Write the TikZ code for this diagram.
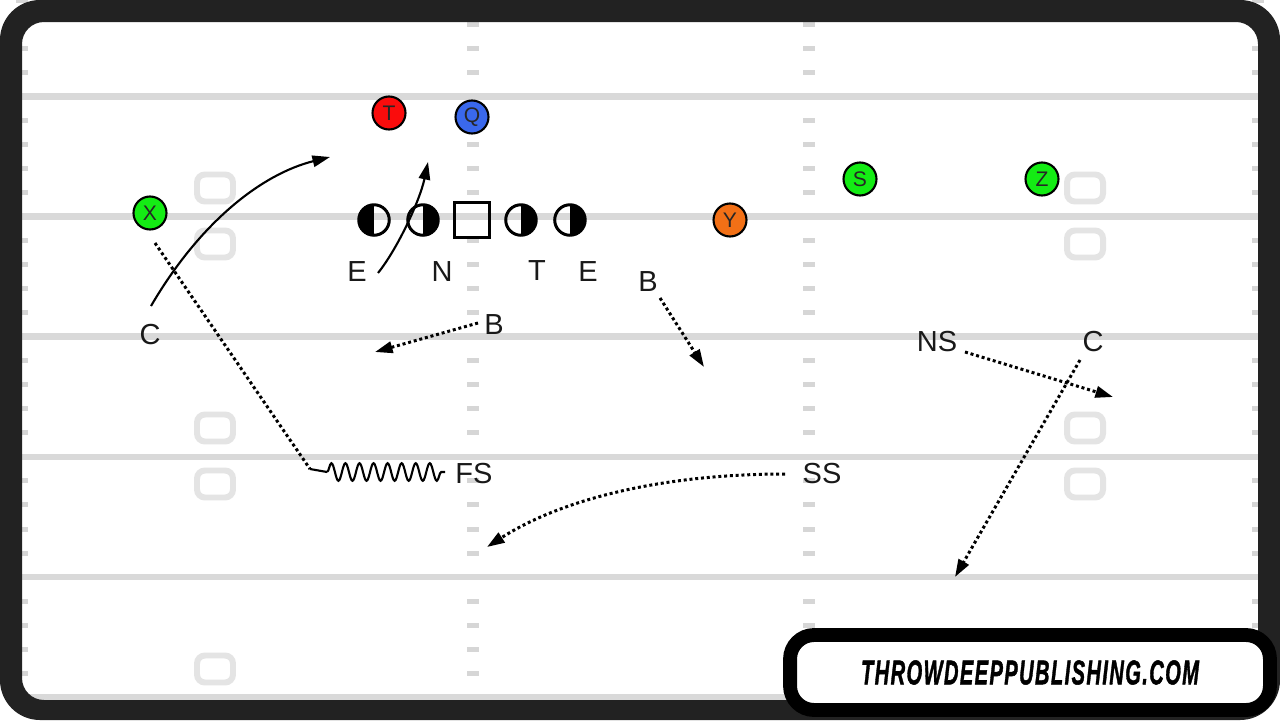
\documentclass[tikz,border=0pt]{standalone}
\usepackage{fontspec}
\setmainfont{Liberation Sans}
\newfontfamily\logofont[BoldItalicFeatures={FakeBold=1.6}]{Liberation Sans}
\usepackage{graphicx}
\usetikzlibrary{arrows.meta,decorations.pathmorphing}
\definecolor{frame}{HTML}{222222}
\definecolor{yard}{HTML}{D9D9D9}
\definecolor{hash}{HTML}{D6D6D6}
\definecolor{marker}{HTML}{E4E4E4}
\definecolor{pgreen}{RGB}{20,236,20}
\definecolor{pred}{RGB}{250,12,12}
\definecolor{pblue}{RGB}{58,104,236}
\definecolor{porange}{RGB}{242,112,22}
\tikzset{
  player/.style={circle,draw=black,line width=1.2pt,minimum size=0.66cm,inner sep=0pt,
    font=\fontsize{12}{12}\selectfont,text=black!85},
  lineman/.style={circle,draw,line width=1.7pt,minimum size=0.61cm,inner sep=0pt},
  leftshade/.style={lineman,path picture={\fill (path picture bounding box.south west) rectangle (path picture bounding box.north);}},
  rightshade/.style={lineman,path picture={\fill (path picture bounding box.south) rectangle (path picture bounding box.north east);}},
  snapbox/.style={draw,line width=1.7pt,minimum size=0.7cm,inner sep=0pt},
  deflabel/.style={font=\fontsize{16.5}{16.5}\selectfont,text=black!90,inner sep=0pt},
  route/.style={line width=1.2pt},
  zone/.style={line width=1.7pt,dash pattern=on 1.7pt off 1.6pt},
  >={Triangle[length=10pt,width=6.5pt]}
}
\newcommand\lk{\kern0.07em}
\begin{document}
\begin{tikzpicture}[x=0.02cm,y=-0.02cm,node distance=0.98cm]
  \useasboundingbox (0,0) rectangle (1280,720);
  \fill[white] (0,0) rectangle (1280,720);
  % field
  \foreach \k in {0,...,5}
    \fill[yard] (22,{96.3+120.2*\k-3.3}) rectangle (1258,{96.3+120.2*\k+3.3});
  \foreach \k in {-1,...,4}
    \foreach \j in {1,...,4}
      \foreach \hx in {22,473,809,1258}
        \fill[hash] ({\hx-6},{96.3+120.2*\k+24.04*\j-2.5}) rectangle ++(12,5);
  \foreach \mx in {215,1085}
    \foreach \my in {188,244,428,484,669}
      \draw[marker,line width=3.4pt,rounded corners=0.16cm] ({\mx-18},{\my-13.5}) rectangle ({\mx+18},{\my+13.5});
  % frame
  \fill[frame,even odd rule] [rounded corners=0.8cm] (0,0) rectangle (1280,720)
    [rounded corners=0.44cm] (22,22) rectangle (1258,700);
  \node (logo) [draw=black,line width=7.9pt,fill=white,rounded corners=0.48cm,
    minimum width=9.6cm,minimum height=1.5cm] at (1030,672.5)
    {\resizebox{6.76cm}{0.48cm}{\logofont\bfseries\itshape T\lk H\lk R\lk O\lk W\lk D\lk E\lk E\lk P\lk P\lk U\lk B\lk L\lk I\lk S\lk H\lk I\lk N\lk G\lk .\lk C\lk O\lk M}};

  % offense
  \node (T) [player,fill=pred] at (389,113) {T};
  \node (Q) [player,fill=pblue] at (472,117) {Q};
  \node (X) [player,fill=pgreen] at (150,213) {X};
  \node (S) [player,fill=pgreen] at (860,179) {S};
  \node (Z) [player,fill=pgreen] at (1042,179) {Z};
  \node (Y) [player,fill=porange] at (730,220) {Y};
  \node (LT) [leftshade] at (374,220) {};
  \node (LG) [rightshade,right of=LT] {};
  \node (OC) [snapbox,right of=LG] {};
  \node (RG) [rightshade,right of=OC] {};
  \node (RT) [rightshade,right of=RG] {};

  % defense
  \node (E1) [deflabel] at (357,272) {E};
  \node (N) [deflabel] at (442,272) {N};
  \node (DT) [deflabel] at (537,271) {T};
  \node (E2) [deflabel] at (588,272) {E};
  \node (B1) [deflabel] at (648,282) {B};
  \node (B2) [deflabel] at (494,325) {B};
  \node (C1) [deflabel] at (150,335) {C};
  \node (NS) [deflabel] at (937,342) {NS};
  \node (C2) [deflabel] at (1093,342) {C};
  \node (FS) [deflabel] at (474,474) {FS};
  \node (SS) [deflabel] at (822,474) {SS};

  % routes
  \coordinate (c1a) at (151,306);
  \coordinate (c1b) at (330,157);
  \coordinate (e1a) at (378,273);
  \coordinate (e1b) at (428,162);
  \coordinate (b2a) at (478,323);
  \coordinate (b2b) at (375,352);
  \coordinate (b1a) at (660,298);
  \coordinate (b1b) at (704,367);
  \coordinate (nsa) at (965,352);
  \coordinate (nsb) at (1113,397);
  \coordinate (c2a) at (1080,360);
  \coordinate (c2b) at (955,577);
  \coordinate (ssa) at (785,474);
  \coordinate (ssb) at (487,547);
  \coordinate (xa) at (155,243);
  \coordinate (xb) at (310,469);
  \coordinate (xc) at (327,472);
  \coordinate (xd) at (445,472);
  \draw[->,route] (c1a) .. controls (200,222) and (262,174) .. (c1b);
  \draw[->,route] (e1a) .. controls (398,248) and (420,200) .. (e1b);
  \draw[->,zone] (b2a) -- (b2b);
  \draw[->,zone] (b1a) -- (b1b);
  \draw[->,zone] (nsa) -- (nsb);
  \draw[->,zone] (c2a) -- (c2b);
  \draw[->,zone] (ssa) .. controls (660,474) and (560,500) .. (ssb);
  \draw[zone] (xa) -- (xb);
  \draw[route] (xb) -- (xc);
  \draw[route,decorate,decoration={snake,amplitude=5pt,segment length=8pt}] (xc) -- (xd);
\end{tikzpicture}
\end{document}
